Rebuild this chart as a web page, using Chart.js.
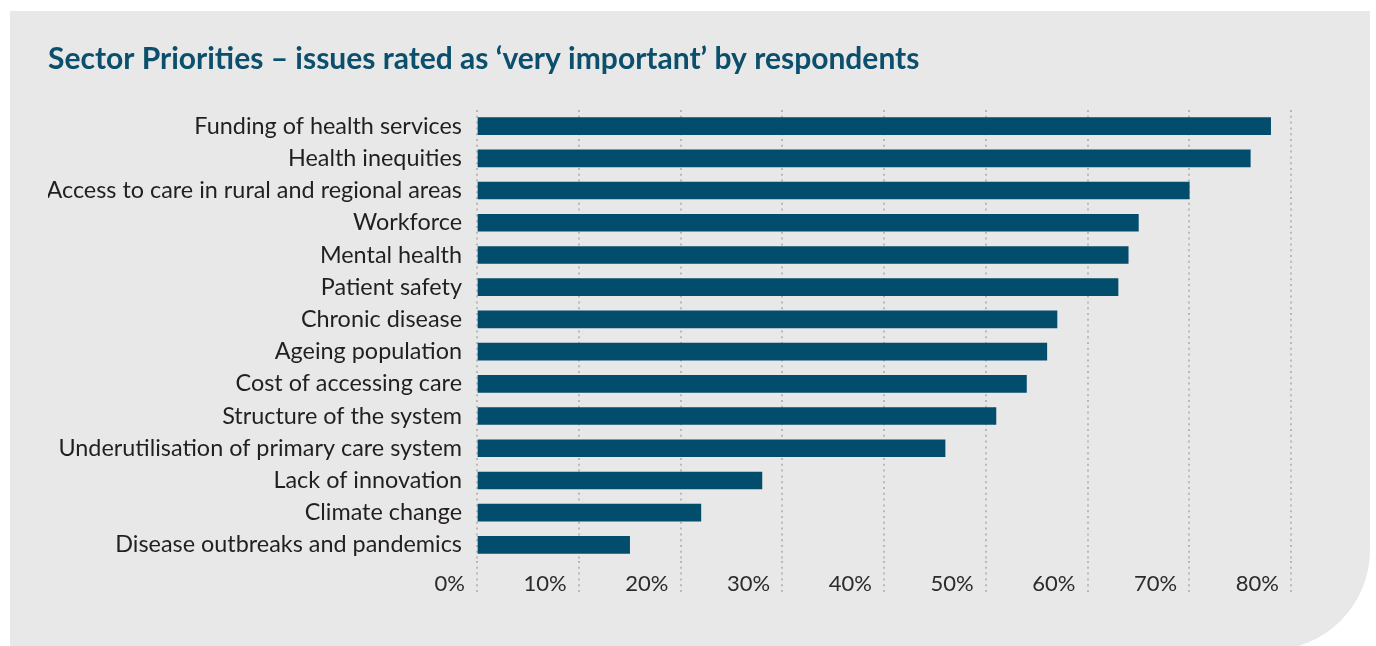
<!DOCTYPE html>
<html>
<head>
<meta charset="utf-8">
<title>Sector Priorities</title>
<script src="https://cdn.jsdelivr.net/npm/chart.js@4.4.1/dist/chart.umd.min.js"></script>
<style>
  body { margin: 0; background: #ffffff; }
  .panel {
    position: absolute;
    left: 10px;
    top: 11px;
    width: 1360px;
    height: 639px;
    background: #e8e8e8;
    border-bottom-right-radius: 100px;
  }
  #priorityChart { position: absolute; left: 0; top: 0; }
</style>
</head>
<body>
<div class="panel"></div>
<canvas id="priorityChart" width="1376" height="646"></canvas>
<script>
// Issues rated 'very important' (% of respondents)
const issues = [
  "Funding of health services",
  "Health inequities",
  "Access to care in rural and regional areas",
  "Workforce",
  "Mental health",
  "Patient safety",
  "Chronic disease",
  "Ageing population",
  "Cost of accessing care",
  "Structure of the system",
  "Underutilisation of primary care system",
  "Lack of innovation",
  "Climate change",
  "Disease outbreaks and pandemics",
];
const veryImportant = [78, 76, 70, 65, 64, 63, 57, 56, 54, 51, 46, 28, 22, 15];

const BAR_COLOR = "#034d6c";
const TEXT_COLOR = "#231f20";
const FONT = "Lato";
const DOTS = [2, 3.8];

// Percent labels sit just left of each dotted grid line
const percentLabels = {
  id: "percentLabels",
  afterDraw(chart) {
    const x = chart.scales.x;
    const ctx = chart.ctx;
    ctx.save();
    ctx.font = "22px " + FONT;
    ctx.fillStyle = "#2b2b2b";
    ctx.textAlign = "right";
    ctx.textBaseline = "middle";
    x.ticks.forEach((t) => {
      ctx.fillText(t.value + "%", x.getPixelForValue(t.value) - 12, 584);
    });
    ctx.restore();
  },
};

new Chart(document.getElementById("priorityChart"), {
  type: "bar",
  data: {
    labels: issues,
    datasets: [
      {
        data: veryImportant,
        backgroundColor: BAR_COLOR,
        barThickness: 17,
      },
    ],
  },
  options: {
    indexAxis: "y",
    responsive: false,
    animation: false,
    layout: { padding: { left: 48, right: 85, top: 0, bottom: 53 } },
    plugins: {
      legend: { display: false },
      tooltip: { enabled: false },
      title: {
        display: true,
        text: "Sector Priorities – issues rated as ‘very important’ by respondents",
        align: "start",
        color: "#0b4f6c",
        font: { family: FONT, size: 30, weight: "bold", lineHeight: 1.2 },
        padding: { top: 41, bottom: 33 },
      },
    },
    scales: {
      x: {
        min: 0,
        max: 80,
        ticks: { stepSize: 10, display: false },
        grid: {
          color: "#b9b9b9",
          lineWidth: 2,
          tickLength: 32,
          drawTicks: true,
          tickBorderDash: DOTS,
        },
        border: { display: false, dash: DOTS },
      },
      y: {
        afterFit: (scale) => { scale.width = 429; }, // keep bars starting at a fixed x
        grid: { display: false, drawTicks: false },
        border: { display: false },
        ticks: {
          color: TEXT_COLOR,
          padding: 15,
          font: { family: FONT, size: 23.4 },
        },
      },
    },
  },
  plugins: [percentLabels],
});
</script>
</body>
</html>
